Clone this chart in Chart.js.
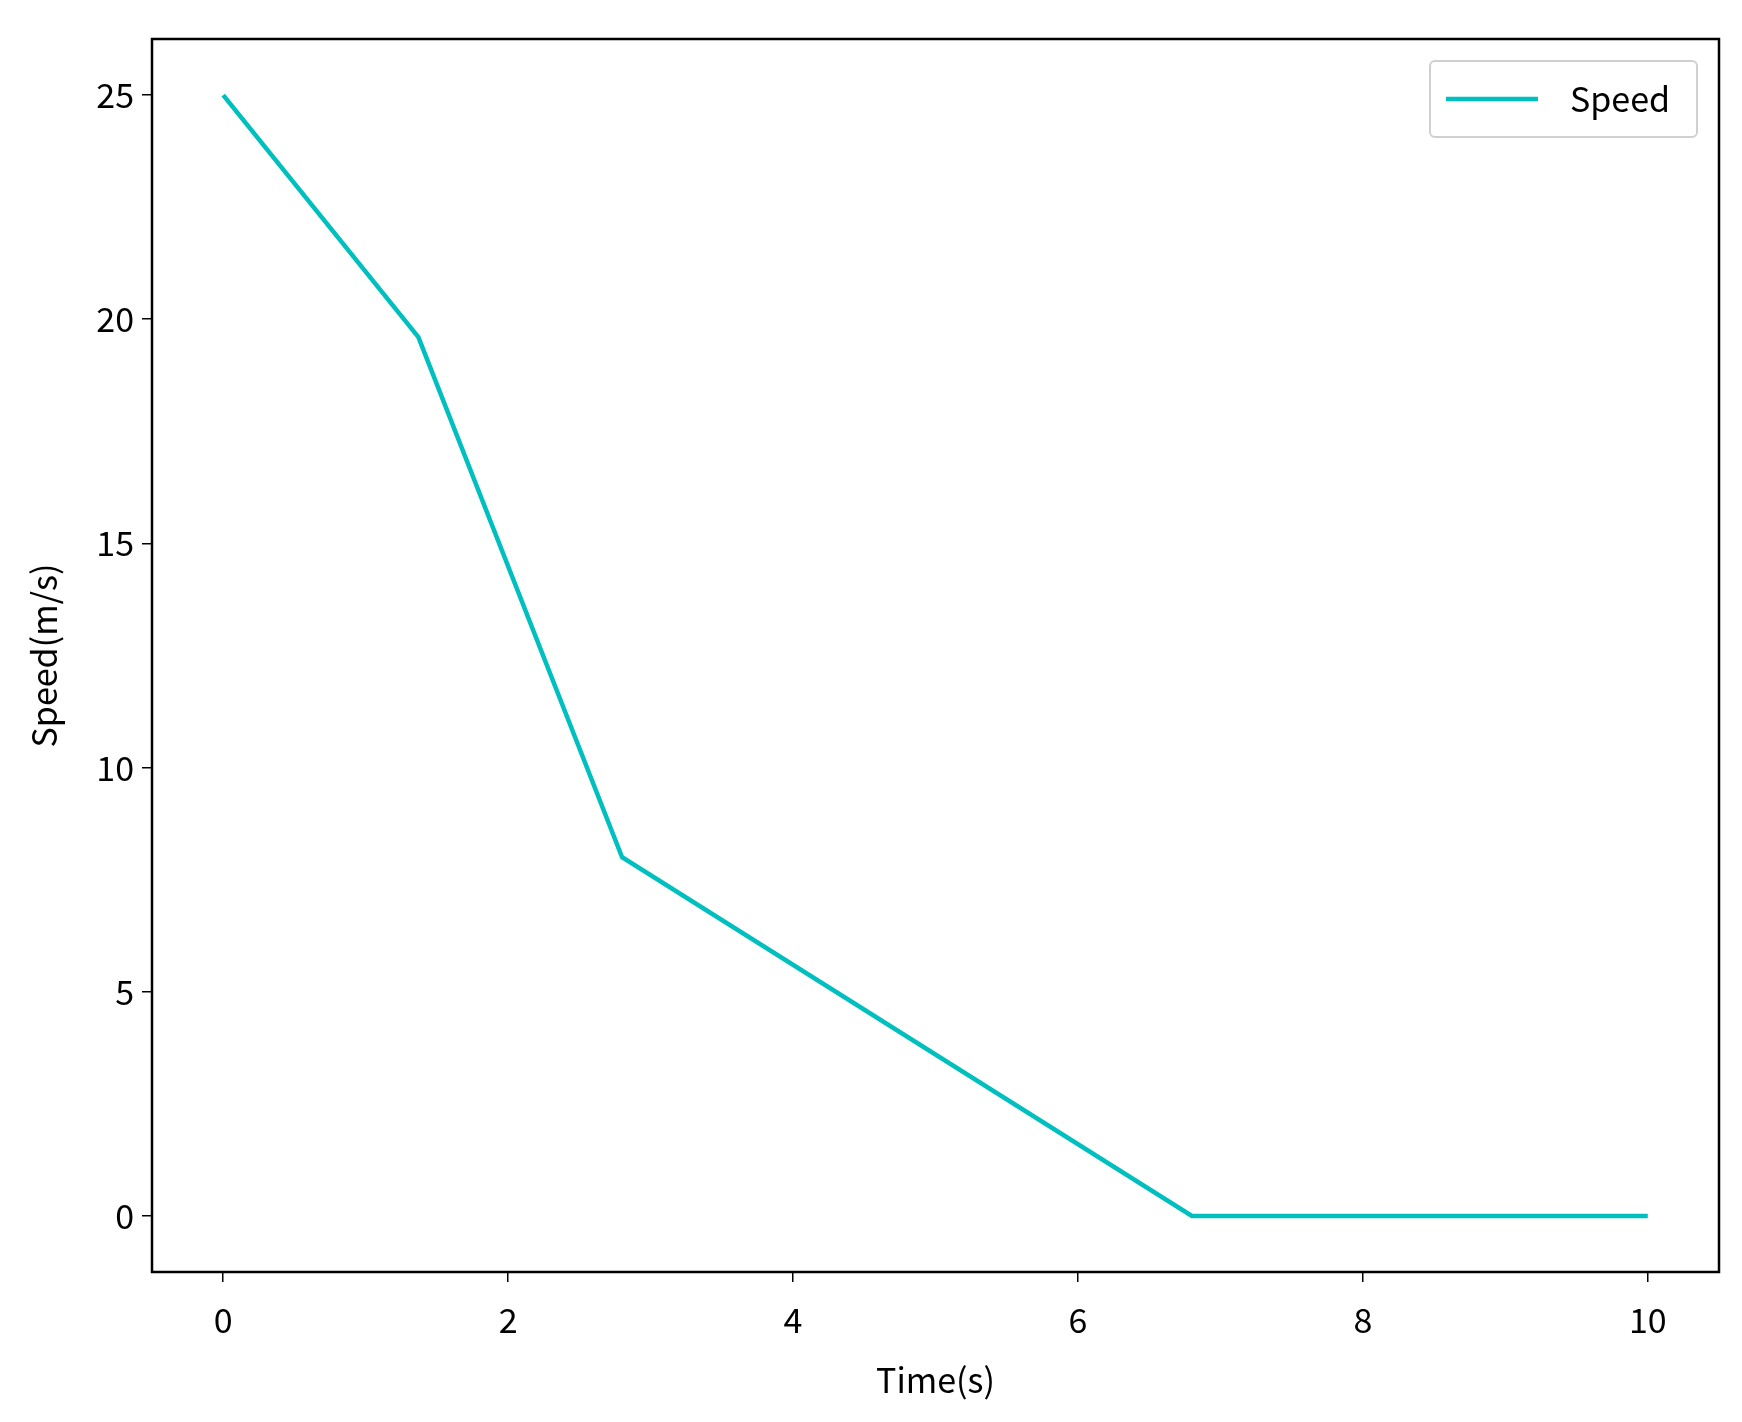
<!DOCTYPE html>
<html><head><meta charset="utf-8">
<script src="https://cdn.jsdelivr.net/npm/chart.js@4"></script>
<style>html,body{margin:0;padding:0;background:#fff}#w{width:1742px;height:1422px}</style>
</head><body><div id="w"><canvas id="c"></canvas></div>
<script>
const timeValues = [0, 1.37, 2.8, 6.8, 10];
const speedValues = [25, 19.6, 8, 0, 0];
const xTicks = [0, 2, 4, 6, 8, 10];
const yTicks = [0, 5, 10, 15, 20, 25];
const FONT = '"Noto Sans CJK SC", "DejaVu Sans", sans-serif';
const COLOR = '#00bfbf';

const frame = {
  id: 'frame',
  afterDraw(chart) {
    const {ctx, chartArea: a} = chart;
    ctx.save();
    ctx.strokeStyle = '#000'; ctx.lineWidth = 2.5;
    ctx.strokeRect(a.left, a.top, a.right - a.left, a.bottom - a.top);
    const bx = a.right - 289, by = a.top + 22, bw = 267, bh = 76;
    ctx.fillStyle = 'rgba(255,255,255,0.9)';
    ctx.strokeStyle = '#d0d0d0'; ctx.lineWidth = 2;
    ctx.beginPath(); ctx.roundRect(bx, by, bw, bh, 5); ctx.fill(); ctx.stroke();
    ctx.strokeStyle = COLOR; ctx.lineWidth = 4.5;
    ctx.beginPath(); ctx.moveTo(bx + 16, by + bh / 2); ctx.lineTo(bx + 108, by + bh / 2); ctx.stroke();
    ctx.fillStyle = '#000'; ctx.font = '34px ' + FONT; ctx.textBaseline = 'middle';
    ctx.fillText(chart.data.datasets[0].label, bx + 140, by + bh / 2);
    ctx.restore();
  }
};

new Chart(document.getElementById('c'), {
  type: 'line',
  data: { datasets: [{ label: 'Speed', data: timeValues.map((t, i) => ({x: t, y: speedValues[i]})),
    borderColor: COLOR, borderWidth: 4.5, pointRadius: 0, tension: 0, fill: false }] },
  options: {
    responsive: true, maintainAspectRatio: false, animation: false,
    layout: { padding: { top: 39, right: 23, left: 0, bottom: 18 } },
    plugins: { legend: { display: false }, tooltip: { enabled: false } },
    scales: {
      x: { type: 'linear', min: -0.5, max: 10.5,
        afterBuildTicks: s => { s.ticks = xTicks.map(v => ({value: v})); },
        afterFit: s => { s.height = 132; },
        grid: { drawOnChartArea: false, drawTicks: true, tickLength: 10, color: '#000', lineWidth: 1.5 },
        border: { display: false },
        ticks: { color: '#000', font: { family: FONT, size: 34 }, padding: 18, maxRotation: 0 },
        title: { display: true, text: 'Time(s)', color: '#000', font: { family: FONT, size: 34 }, padding: { top: 4 } } },
      y: { type: 'linear', min: -1.25, max: 26.25,
        afterBuildTicks: s => { s.ticks = yTicks.map(v => ({value: v})); },
        afterFit: s => { s.width = 152; },
        grid: { drawOnChartArea: false, drawTicks: true, tickLength: 10, color: '#000', lineWidth: 1.5 },
        border: { display: false },
        ticks: { color: '#000', font: { family: FONT, size: 34 }, padding: 8 },
        title: { display: true, text: 'Speed(m/s)', color: '#000', font: { family: FONT, size: 34 }, padding: { top: 24, bottom: 4 } } }
    }
  },
  plugins: [frame]
});
</script></body></html>
